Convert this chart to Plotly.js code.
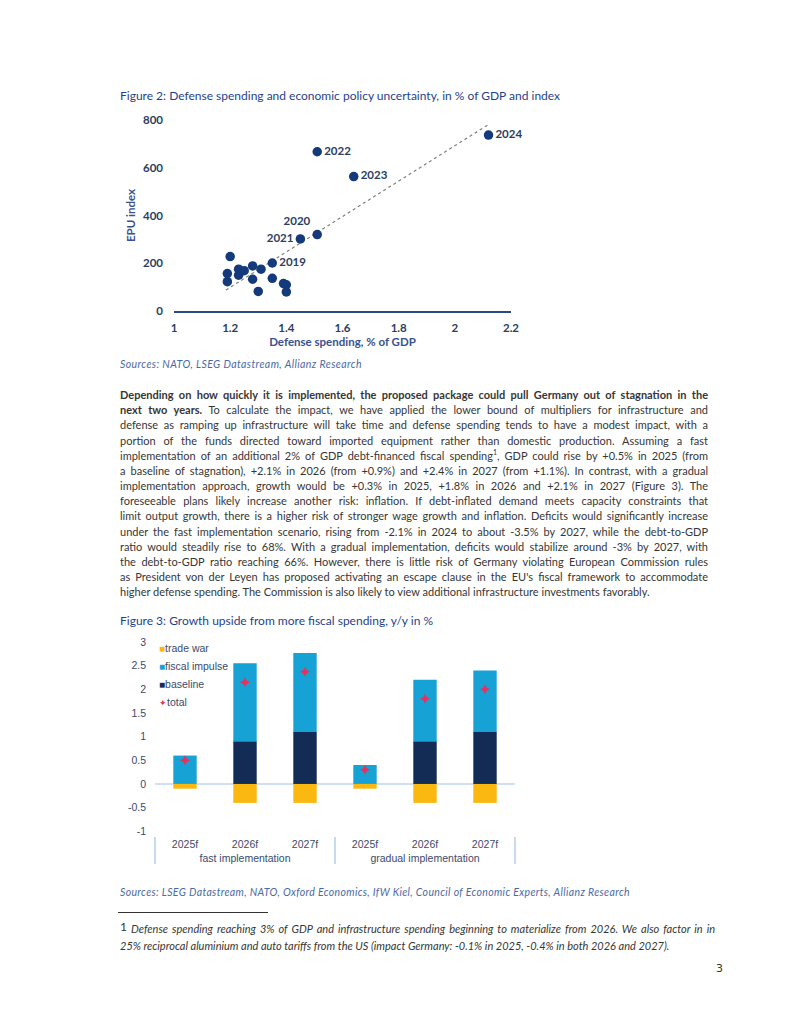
<!DOCTYPE html>
<html>
<head>
<meta charset="utf-8">
<script src="https://cdn.plot.ly/plotly-3.0.1.min.js"></script>
<style>
  html, body { margin:0; padding:0; background:#fff; }
  body { width:800px; height:1035px; position:relative; overflow:hidden; font-family: Lato, "Noto Sans", sans-serif; }
  .abs { position:absolute; }
  .figtitle { left:120px; font-size:12px; color:#1f3f8c; white-space:nowrap; }
  .src { left:120px; font-size:10.5px; color:#4a6aa6; font-style:italic; white-space:nowrap; }
  .line { left:120px; font-size:11px; color:#363636; white-space:nowrap; line-height:15px; }
  .fn { left:120px; font-size:11px; color:#363636; font-style:italic; white-space:nowrap; }
  sup { font-size:7px; line-height:0; }
</style>
</head>
<body>
<script>
// ---------- Figure 2 data ----------
const defenseSpending = [1.20, 1.19, 1.19, 1.23, 1.25, 1.23, 1.28, 1.31, 1.28, 1.30, 1.35, 1.39, 1.40, 1.40, 1.35, 1.51, 1.45, 1.51, 1.64, 2.12];
const epuIndex        = [228, 157, 123, 175, 169, 150, 189, 175, 133, 82, 137, 115, 110, 80, 201, 320, 302, 667, 563, 737];
const pointLabels     = ['', '', '', '', '', '', '', '', '', '', '', '', '', '', '2019', '2020', '2021', '2022', '2023', '2024'];
const trendX = [1.185, 2.117];
const trendY = [88, 779];
const fig2XTicks = [1, 1.2, 1.4, 1.6, 1.8, 2, 2.2];
const fig2YTicks = [0, 200, 400, 600, 800];

// ---------- Figure 3 data ----------
const scenarios  = ['fast implementation', 'fast implementation', 'fast implementation', 'gradual implementation', 'gradual implementation', 'gradual implementation'];
const years      = ['2025f', '2026f', '2027f', '2025f', '2026f', '2027f'];
const baseline   = [0, 0.9, 1.1, 0, 0.9, 1.1];
const fiscalImpulse = [0.6, 1.65, 1.67, 0.4, 1.3, 1.3];
const tradeWar   = [-0.1, -0.4, -0.4, -0.1, -0.4, -0.4];
const total      = [0.5, 2.15, 2.37, 0.3, 1.8, 2.0];
const fig3YTicks = [-1, -0.5, 0, 0.5, 1, 1.5, 2, 2.5, 3];
const fig3YTickText = ['-1', '-0.5', '0', '0.5', '1', '1.5', '2', '2.5', '3'];
const legendNames  = ['trade war', 'fiscal impulse', 'baseline', 'total'];
const legendSymbols = ['■', '■', '■', '✦'];
const legendColors = ['#fbb811', '#17a2d6', '#132c55', '#e8305c'];
const legendYPos   = [2.87, 2.5, 2.12, 1.74];
</script>

<div class="abs figtitle" style="top:88px;">Figure 2: Defense spending and economic policy uncertainty, in % of GDP and index</div>
<div id="fig2" class="abs" style="left:0; top:100px; width:800px; height:262px;"></div>
<div class="abs src fit" data-w="242" style="top:358px;">Sources: NATO, LSEG Datastream, Allianz Research</div>

<div id="para"></div>

<div class="abs figtitle" style="top:613px;">Figure 3: Growth upside from more fiscal spending, y/y in %</div>
<div id="fig3" class="abs" style="left:0; top:630px; width:800px; height:250px;"></div>
<div class="abs src fit" data-w="510" style="top:886px;">Sources: LSEG Datastream, NATO, Oxford Economics, IfW Kiel, Council of Economic Experts, Allianz Research</div>

<div class="abs" style="left:118px; top:912px; width:150px; height:0; border-top:1px solid #333;"></div>
<div class="abs fn fnl" style="top:921px;"><span style="font-style:normal;font-size:12px;position:relative;top:-2px;">1</span> Defense spending reaching 3% of GDP and infrastructure spending beginning to materialize from 2026. We also factor in in</div>
<div class="abs fn" style="top:939px;">25% reciprocal aluminium and auto tariffs from the US (impact Germany: -0.1% in 2025, -0.4% in both 2026 and 2027).</div>
<div class="abs" style="left:716px; top:962px; font-size:11px; color:#333; font-family:'DejaVu Sans',sans-serif;">3</div>

<script>
// ---------- paragraph ----------
const paraLines = [
  '<b>Depending on how quickly it is implemented, the proposed package could pull Germany out of stagnation in the</b>',
  '<b>next two years.</b> To calculate the impact, we have applied the lower bound of multipliers for infrastructure and',
  'defense as ramping up infrastructure will take time and defense spending tends to have a modest impact, with a',
  'portion of the funds directed toward imported equipment rather than domestic production. Assuming a fast',
  'implementation of an additional 2% of GDP debt-financed fiscal spending<sup>1</sup>, GDP could rise by +0.5% in 2025 (from',
  'a baseline of stagnation), +2.1% in 2026 (from +0.9%) and +2.4% in 2027 (from +1.1%). In contrast, with a gradual',
  'implementation approach, growth would be +0.3% in 2025, +1.8% in 2026 and +2.1% in 2027 (Figure 3). The',
  'foreseeable plans likely increase another risk: inflation. If debt-inflated demand meets capacity constraints that',
  'limit output growth, there is a higher risk of stronger wage growth and inflation. Deficits would significantly increase',
  'under the fast implementation scenario, rising from -2.1% in 2024 to about -3.5% by 2027, while the debt-to-GDP',
  "ratio would steadily rise to 68%. With a gradual implementation, deficits would stabilize around -3% by 2027, with",
  'the debt-to-GDP ratio reaching 66%. However, there is little risk of Germany violating European Commission rules',
  "as President von der Leyen has proposed activating an escape clause in the EU's fiscal framework to accommodate",
  'higher defense spending. The Commission is also likely to view additional infrastructure investments favorably.'
];
const para = document.getElementById('para');
function fitLine(el, target, justify) {
  const w = el.getBoundingClientRect().width;
  const txt = el.textContent;
  const nSp = (txt.match(/ /g) || []).length;
  if (w > target) {
    el.style.letterSpacing = ((target - w) / txt.length).toFixed(3) + 'px';
  } else if (justify && nSp > 0) {
    el.style.wordSpacing = ((target - w) / nSp).toFixed(3) + 'px';
  }
}
paraLines.forEach((html, i) => {
  const d = document.createElement('div');
  d.className = 'abs line';
  d.style.top = (387 + i * 15.17) + 'px';
  d.innerHTML = html;
  para.appendChild(d);
  fitLine(d, 588, i < paraLines.length - 1);
});
fitLine(document.querySelector('.fnl'), 595, true);
document.querySelectorAll('.fit').forEach(el => {
  const target = +el.dataset.w;
  const w = el.getBoundingClientRect().width;
  el.style.letterSpacing = ((target - w) / el.textContent.length).toFixed(3) + 'px';
});

// ---------- Figure 2 ----------
const navy = '#143a7b';
const tickFont = {family: 'Lato, "Noto Sans", sans-serif', size: 11.5, color: '#2c3d62', weight: 700};
const posMap = {'2019':'middle right','2020':'top left','2021':'middle left','2022':'middle right','2023':'middle right','2024':'middle right'};
const labelPositions = pointLabels.map(l => posMap[l] || 'middle right');
Plotly.newPlot('fig2', [
  {
    x: trendX, y: trendY, mode: 'lines', type: 'scatter', showlegend: false, hoverinfo: 'skip',
    line: {color: '#7f7f7f', width: 1.2, dash: '3px,3px'}
  },
  {
    x: defenseSpending, y: epuIndex, text: pointLabels, textposition: labelPositions,
    mode: 'markers+text', type: 'scatter', showlegend: false, cliponaxis: false,
    marker: {color: navy, size: 9.5},
    textfont: {family: 'Lato, "Noto Sans", sans-serif', size: 11.5, color: '#2c3d62', weight: 700}
  }
], {
  width: 800, height: 262,
  margin: {l: 174, r: 289, t: 20, b: 51},
  paper_bgcolor: 'rgba(0,0,0,0)', plot_bgcolor: 'rgba(0,0,0,0)',
  showlegend: false,
  xaxis: {
    range: [1, 2.2], tickvals: fig2XTicks, showgrid: false, zeroline: false,
    showline: true, linecolor: '#2b4a85', linewidth: 1.5, ticks: '', ticklabelstandoff: 6,
    tickfont: tickFont,
    title: {text: 'Defense spending, % of GDP', standoff: 4, font: {family: 'Lato, "Noto Sans", sans-serif', size: 11.5, color: '#3a5290', weight: 700}}
  },
  yaxis: {
    range: [0, 800], tickvals: fig2YTicks, showgrid: false, zeroline: false, showline: false,
    ticks: '', ticklabelstandoff: 10, tickfont: tickFont,
    title: {text: 'EPU index', standoff: 4, font: {family: 'Lato, "Noto Sans", sans-serif', size: 11.5, color: '#3a5290', weight: 700}}
  }
}, {staticPlot: true, displayModeBar: false});

// ---------- Figure 3 ----------
const f3font = {family: '"Liberation Sans", Arial, sans-serif', size: 10.5, color: '#3b4a6c'};
const xCat = [scenarios, years];
const legendAnnotations = legendNames.map((n, i) => ({
  xref: 'paper', yref: 'y', x: 0.006, y: legendYPos[i], xanchor: 'left', yanchor: 'middle', showarrow: false,
  text: '<span style="color:' + legendColors[i] + ';font-size:' + (i === 3 ? 9 : 10) + 'px">' + legendSymbols[i] + '</span>' + n,
  font: {family: '"Liberation Sans", Arial, sans-serif', size: 10.5, color: '#3b4a6c'}
}));
Plotly.newPlot('fig3', [
  {name: legendNames[2], x: xCat, y: baseline, type: 'bar', marker: {color: legendColors[2]}},
  {name: legendNames[1], x: xCat, y: fiscalImpulse, type: 'bar', marker: {color: legendColors[1]}},
  {name: legendNames[0], x: xCat, y: tradeWar, type: 'bar', marker: {color: legendColors[0]}},
  {name: legendNames[3], x: xCat, y: total, type: 'scatter', mode: 'markers',
   marker: {symbol: 'star-diamond', color: legendColors[3], size: 7.5}}
], {
  width: 800, height: 250,
  margin: {l: 155, r: 285, t: 12, b: 44},
  paper_bgcolor: 'rgba(0,0,0,0)', plot_bgcolor: 'rgba(0,0,0,0)',
  barmode: 'relative', bargap: 0.61,
  showlegend: false,
  annotations: legendAnnotations,
  font: f3font,
  xaxis: {
    type: 'multicategory', showgrid: false, zeroline: false, showline: false, ticks: '',
    showdividers: true, dividercolor: '#c8daf0', dividerwidth: 1.2, tickfont: f3font
  },
  yaxis: {
    range: [-1.1, 3], tickvals: fig3YTicks, ticktext: fig3YTickText, showgrid: false,
    zeroline: true, zerolinecolor: '#cfe0f3', zerolinewidth: 1.2, showline: false, ticks: '',
    ticklabelstandoff: 8, tickfont: f3font
  }
}, {staticPlot: true, displayModeBar: false});
</script>
</body>
</html>
